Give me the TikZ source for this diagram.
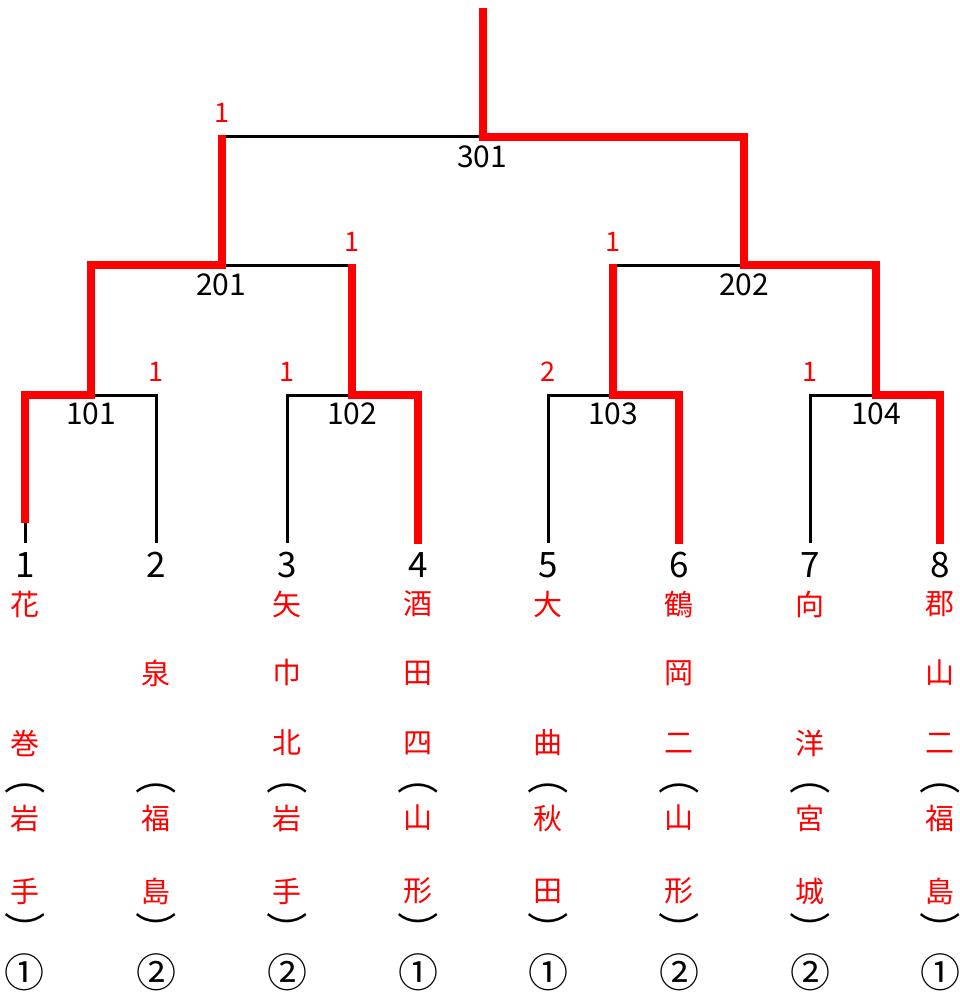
\documentclass[tikz,border=0pt]{standalone}
\usepackage{fontspec}
\setmainfont{Noto Sans CJK JP}
\definecolor{win}{RGB}{255,0,0}
\begin{document}
\begin{tikzpicture}[x=1pt,y=-1pt,
  blk/.style={line width=3pt,black},
  redl/.style={line width=8pt,win},
  teamnum/.style={font=\fontsize{35}{35}\selectfont,inner sep=0},
  matchlbl/.style={font=\fontsize{30}{30}\selectfont,inner sep=0},
  score/.style={font=\fontsize{27}{27}\selectfont,text=win,inner sep=0},
  kanji/.style={font=\fontsize{29}{29}\selectfont,text=win,inner sep=0},
  paren/.style={font=\fontsize{36}{36}\selectfont,inner sep=0},
  seed/.style={font=\fontsize{40}{40}\selectfont,inner sep=0}]
\useasboundingbox (0,0) rectangle (960,993);
% coordinates
\foreach \x/\i in {25/1,156/2,287/3,418/4,548/5,679/6,810/7,940/8}{
  \coordinate (b\i) at (\x,543);
  \coordinate (r\i) at (\x,544);
}
\coordinate (m101) at (91,395);
\coordinate (m102) at (352,395);
\coordinate (m103) at (613,395);
\coordinate (m104) at (876,395);
\coordinate (m201) at (222,265);
\coordinate (m202) at (744,265);
\coordinate (m301) at (483,136.5);
\coordinate (top) at (483,8);
% black bracket
\draw[blk] (b1) -- (b1 |- m101) -- (b2 |- m101) -- (b2);
\draw[blk] (b3) -- (b3 |- m102) -- (b4 |- m102) -- (b4);
\draw[blk] (b5) -- (b5 |- m103) -- (b6 |- m103) -- (b6);
\draw[blk] (b7) -- (b7 |- m104) -- (b8 |- m104) -- (b8);
\draw[blk] (m101) -- (m101 |- m201) -- (m102 |- m201) -- (m102);
\draw[blk] (m103) -- (m103 |- m202) -- (m104 |- m202) -- (m104);
\draw[blk] (m201) -- (m201 |- m301) -- (m202 |- m301) -- (m202);
\draw[blk] (m301) -- (top);
% red winner paths
\draw[redl] (25,523) -- (b1 |- m101) -- (m101) -- (m101 |- m201) -- (m201) -- ([yshift=1.5pt]m201 |- m301);
\draw[redl] (r4) -- (r4 |- m102) -- (m102) -- ([yshift=1.5pt]m102 |- m201);
\draw[redl] (r6) -- (r6 |- m103) -- (m103) -- ([yshift=1.5pt]m103 |- m202);
\draw[redl] (r8) -- (r8 |- m104) -- (m104) -- (m104 |- m202) -- (m202) -- (m202 |- m301) -- (m301) -- (top);
% match labels
\node[matchlbl] (l101) at (91,414) {101};
\node[matchlbl] (l102) at (352,414) {102};
\node[matchlbl] (l103) at (613,414) {103};
\node[matchlbl] (l104) at (876,414) {104};
\node[matchlbl] (l201) at (221,285) {201};
\node[matchlbl] (l202) at (744,285) {202};
\node[matchlbl] (l301) at (482,157) {301};
% scores
\node[score] (s1) at (222,113) {1};
\node[score] (s2) at (352,242) {1};
\node[score] (s3) at (613,242) {1};
\node[score] (s4) at (156,372) {1};
\node[score] (s5) at (287,372) {1};
\node[score] (s6) at (548,372) {2};
\node[score] (s7) at (810,372) {1};
% team numbers and brackets
\foreach \x/\i in {25/1,156/2,287/3,418/4,548/5,679/6,810/7,940/8}{
  \node[teamnum] (t\i) at (\x,565) {\i};
  \node[paren] (po\i) at (\x,788) {\scalebox{1.15}[1]{︵}};
  \node[paren] (pc\i) at (\x,928) {\scalebox{1.15}[1]{︶}};
}
% school names
\foreach \x/\c/\i in {25/花/1,287/矢/3,418/酒/4,548/大/5,679/鶴/6,810/向/7,940/郡/8}
  \node[kanji] (na\i) at (\x,604) {\c};
\foreach \x/\c/\i in {156/泉/2,287/巾/3,418/田/4,679/岡/6,940/山/8}
  \node[kanji] (nb\i) at (\x,673) {\c};
\foreach \x/\c/\i in {25/巻/1,287/北/3,418/四/4,548/曲/5,679/二/6,810/洋/7,940/二/8}
  \node[kanji] (nc\i) at (\x,743) {\c};
% prefectures and seeds
\foreach \x/\c/\d/\s/\i in {25/岩/手/①/1,156/福/島/②/2,287/岩/手/②/3,418/山/形/①/4,548/秋/田/①/5,679/山/形/②/6,810/宮/城/②/7,940/福/島/①/8}{
  \node[kanji] (pa\i) at (\x,818) {\c};
  \node[kanji] (pb\i) at (\x,891) {\d};
  \node[seed] (sd\i) at (\x,972) {\s};
}
\end{tikzpicture}
\end{document}
